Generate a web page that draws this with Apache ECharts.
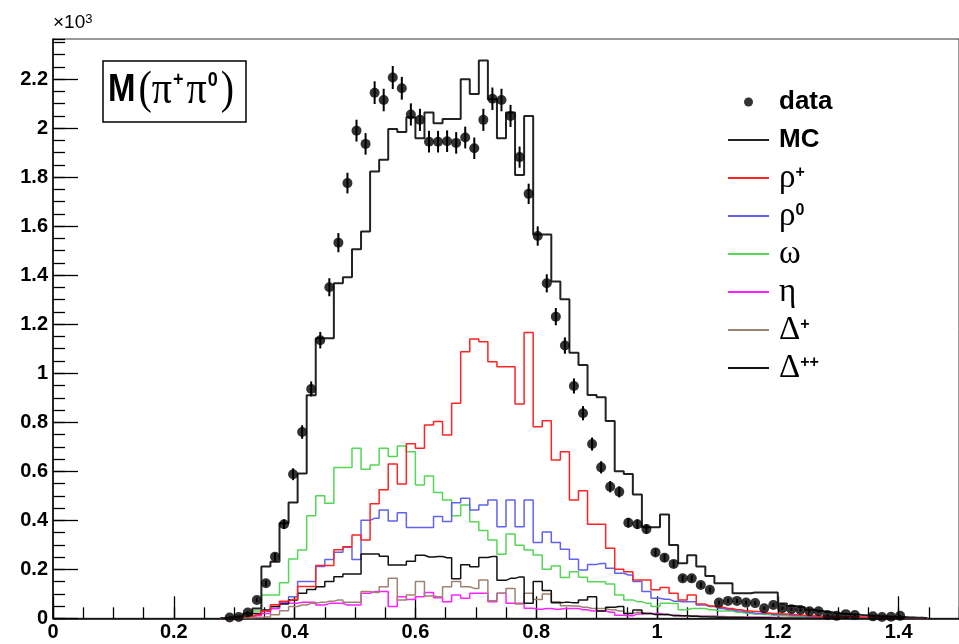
<!DOCTYPE html>
<html>
<head>
<meta charset="utf-8">
<script src="https://cdn.jsdelivr.net/npm/echarts@6/dist/echarts.min.js"></script>
<style>html,body{margin:0;padding:0;background:#fff}#c{width:959px;height:644px}</style>
</head>
<body>
<div id="c"></div>
<script>
// Histogram binning: 100 bins of width 0.015 over [0, 1.5]; arrays start at bin FIRST_BIN
const BIN_W = 0.015;
const FIRST_BIN = 19;
const X_TICKS = [0, 0.2, 0.4, 0.6, 0.8, 1, 1.2, 1.4];
const Y_TICKS = [0, 0.2, 0.4, 0.6, 0.8, 1, 1.2, 1.4, 1.6, 1.8, 2, 2.2];

// values in units of 10^3 entries, bins 19..95
const dataVals = [0.003,0.005,0.024,0.075,0.143,0.251,0.384,0.588,0.760,0.936,
  1.135,1.351,1.533,1.776,1.990,1.936,2.145,2.115,2.207,2.163,
  2.056,2.034,1.945,1.945,1.947,1.940,1.962,1.918,2.034,2.120,
  2.115,2.050,1.882,1.732,1.560,1.367,1.231,1.113,0.948,0.837,
  0.711,0.616,0.537,0.516,0.390,0.384,0.364,0.269,0.247,0.222,
  0.163,0.163,0.136,0.116,0.064,0.071,0.071,0.064,0.062,0.041,
  0.054,0.041,0.037,0.034,0.029,0.029,0.013,0.010,0.017,0.013,
  null,0.008,0.005,0.006,0.010,null,null];
const mcVals = [0.004,0.008,0.020,0.040,0.211,0.231,0.388,0.473,0.591,0.910,
  1.143,1.143,1.367,1.392,1.506,1.578,1.823,1.871,1.997,1.984,
  2.045,1.959,2.064,2.020,2.038,2.038,2.200,2.140,2.276,2.118,
  1.959,2.064,1.809,2.050,1.566,1.566,1.374,1.302,1.084,1.034,
  0.911,0.902,0.805,0.600,0.589,0.505,0.372,0.372,0.424,0.299,
  0.225,0.257,0.211,0.173,0.143,0.143,0.102,0.102,0.105,0.105,
  0.105,0.060,0.050,0.045,0.035,0.030,0.025,0.020,0.018,0.015,
  0.012,0.010,0.008,0.006,0.005,0.003,0.002];
const rhoPlusVals = [0.002,0.004,0.008,0.015,0.030,0.055,0.070,0.077,0.130,0.130,
  0.215,0.215,0.280,0.292,0.340,0.320,0.467,0.525,0.630,0.548,
  0.712,0.694,0.789,0.803,0.748,0.878,1.088,1.140,1.129,1.047,
  1.027,1.027,0.875,1.166,0.782,0.806,0.646,0.680,0.483,0.520,
  0.384,0.384,0.286,0.200,0.190,0.156,0.156,0.116,0.126,0.102,
  0.075,0.095,0.058,0.050,0.045,0.040,0.035,0.030,0.028,0.022,
  0.020,0.018,0.015,0.012,0.010,0.008,0.008,0.006,0.005,0.005,
  0.004,0.004,0.003,0.003,0.003,0.002,0.000];
const rho0Vals = [0.002,0.004,0.008,0.015,0.030,0.040,0.064,0.088,0.150,0.150,
  0.211,0.240,0.270,0.290,0.240,0.400,0.408,0.442,0.397,0.431,
  0.371,0.371,0.371,0.415,0.395,0.472,0.490,0.442,0.462,0.483,
  0.374,0.483,0.374,0.483,0.309,0.352,0.309,0.282,0.241,0.197,
  0.220,0.224,0.204,0.184,0.177,0.150,0.109,0.082,0.078,0.070,
  0.068,0.068,0.054,0.048,0.040,0.035,0.030,0.025,0.020,0.020,
  0.015,0.015,0.012,0.010,0.008,0.008,0.006,0.006,0.005,0.005,
  0.004,0.004,0.003,0.003,0.003,0.003,0.000];
const omegaVals = [0.003,0.006,0.015,0.030,0.095,0.095,0.145,0.242,0.279,0.418,
  0.500,0.469,0.615,0.615,0.694,0.608,0.626,0.694,0.660,0.703,
  0.680,0.544,0.581,0.513,0.483,0.418,0.462,0.394,0.358,0.320,
  0.261,0.344,0.298,0.279,0.258,0.200,0.213,0.167,0.190,0.168,
  0.149,0.149,0.140,0.095,0.075,0.068,0.061,0.048,0.061,0.060,
  0.035,0.040,0.040,0.035,0.030,0.030,0.025,0.020,0.018,0.015,
  0.012,0.010,0.008,0.007,0.006,0.005,0.004,0.004,0.003,0.003,
  0.002,0.002,0.002,0.001,0.001,0.000,0.000];
const etaVals = [0.002,0.004,0.006,0.010,0.020,0.040,0.061,0.061,0.065,0.065,
  0.054,0.061,0.061,0.054,0.054,0.102,0.109,0.109,0.048,0.088,
  0.077,0.088,0.105,0.084,0.068,0.095,0.082,0.102,0.102,0.068,
  0.102,0.061,0.061,0.041,0.037,0.040,0.037,0.040,0.040,0.035,
  0.030,0.030,0.025,0.012,0.010,0.018,0.020,0.020,0.015,0.012,
  0.010,0.010,0.008,0.008,0.007,0.006,0.005,0.005,0.004,0.004,
  0.003,0.003,0.003,0.002,0.002,0.002,0.002,0.006,0.006,0.002,
  0.001,0.001,0.001,0.001,0.000,0.000,0.000];
const deltaPlusVals = [0.000,0.001,0.002,0.003,0.005,0.014,0.031,0.048,0.054,0.061,
  0.065,0.070,0.075,0.065,0.065,0.109,0.105,0.129,0.163,0.075,
  0.095,0.150,0.091,0.088,0.129,0.150,0.129,0.122,0.156,0.072,
  0.102,0.122,0.058,0.102,0.077,0.099,0.068,0.051,0.050,0.045,
  0.040,0.040,0.035,0.030,0.020,0.025,0.020,0.015,0.015,0.012,
  0.010,0.010,0.008,0.008,0.006,0.005,0.005,0.004,0.004,0.003,
  0.003,0.002,0.002,0.002,0.001,0.001,0.001,0.000,0.000,0.000,
  0.000,0.000,0.000,0.000,0.000,0.000,0.000];
const deltaPPVals = [0.002,0.004,0.010,0.020,0.034,0.048,0.058,0.075,0.102,0.118,
  0.129,0.150,0.170,0.181,0.181,0.262,0.262,0.253,0.218,0.218,
  0.233,0.257,0.250,0.252,0.247,0.161,0.219,0.210,0.248,0.252,
  0.155,0.163,0.169,0.061,0.150,0.113,0.063,0.065,0.063,0.075,
  0.088,0.030,0.045,0.048,0.020,0.034,0.020,0.015,0.015,0.010,
  0.010,0.008,0.006,0.005,0.004,0.003,0.003,0.002,0.002,0.002,
  0.001,0.000,0.000,0.000,0.000,0.000,0.000,0.000,0.000,0.000,
  0.000,0.000,0.000,0.000,0.000,0.000,0.000];

const binCenter = k => +(BIN_W * (k + 0.5)).toFixed(4);
function histPoints(vals) {
  const pts = [[binCenter(FIRST_BIN - 1), 0]];
  vals.forEach((v, i) => pts.push([binCenter(FIRST_BIN + i), v]));
  pts.push([binCenter(FIRST_BIN + vals.length), 0]);
  return pts;
}
const dataPts = [], errPts = [];
dataVals.forEach((v, i) => {
  if (v === null) return;
  const x = binCenter(FIRST_BIN + i);
  const e = Math.sqrt(v * 1000) / 1000; // Poisson error of the counts
  dataPts.push([x, v]);
  errPts.push([x, Math.max(0, v - e), v + e]);
});

const SANS = 'Liberation Sans, Arial, Helvetica, sans-serif';
const SERIF = 'Liberation Serif, Times New Roman, serif';
const ROW_H = 38;
const legendRich = {
  b: {fontFamily: SANS, fontWeight: 'bold', fontSize: 26, lineHeight: ROW_H, height: ROW_H, color: '#000', padding: [0, 0, 0, 5]},
  g: {fontFamily: SERIF, fontSize: 33, lineHeight: ROW_H, height: ROW_H, color: '#000', padding: [0, 0, 0, 5]},
  s: {fontFamily: SANS, fontWeight: 'bold', fontSize: 16, lineHeight: 16, verticalAlign: 'top', color: '#000', padding: [6, 0, 0, 0]}
};
const legendLabels = {
  'data': '{b|data}', 'MC': '{b|MC}', 'rho+': '{g|ρ}{s|+}', 'rho0': '{g|ρ}{s|0}',
  'omega': '{g|ω}', 'eta': '{g|η}', 'Delta+': '{g|Δ}{s|+}', 'Delta++': '{g|Δ}{s|++}'
};
const hist = (name, vals, color, width, z) => ({
  name, type: 'line', step: 'middle', symbol: 'none', data: histPoints(vals),
  lineStyle: {color, width}, itemStyle: {color}, z, silent: true
});
const lineLegend = name => ({name, itemStyle: {opacity: 0}});

const chart = echarts.init(document.getElementById('c'), null, {renderer: 'canvas'});
chart.setOption({
  animation: false,
  backgroundColor: '#fff',
  grid: {left: 53, top: 39, width: 918, height: 579.3, show: true, borderColor: '#333', borderWidth: 1, backgroundColor: 'transparent'},
  xAxis: [{
    type: 'value', min: 0, max: 1.5, interval: 0.2,
    axisLine: {lineStyle: {color: '#000', width: 1.5}},
    axisTick: {inside: true, length: 22, lineStyle: {color: '#000', width: 1.3}},
    axisLabel: {color: '#000', fontFamily: SANS, fontWeight: 'bold', fontSize: 20, margin: 4, showMaxLabel: false,
      formatter: v => X_TICKS.some(t => Math.abs(t - v) < 1e-9) ? String(v) : ''},
    splitLine: {show: false}
  }, {
    type: 'value', min: 0, max: 1.5, interval: 0.05, position: 'bottom',
    axisLine: {show: false}, axisLabel: {show: false}, splitLine: {show: false},
    axisTick: {inside: true, length: 11, lineStyle: {color: '#000', width: 1.3}}
  }],
  yAxis: [{
    type: 'value', min: 0, max: 2.364, interval: 0.2,
    name: '{a|×10}{s|3}', nameLocation: 'end', nameGap: 6,
    nameTextStyle: {align: 'left', verticalAlign: 'bottom', rich: {
      a: {fontFamily: SANS, fontSize: 19, color: '#000', lineHeight: 20},
      s: {fontFamily: SANS, fontSize: 13, color: '#000', verticalAlign: 'top', lineHeight: 13}
    }},
    axisLine: {lineStyle: {color: '#000', width: 1.5}},
    axisTick: {inside: true, length: 25, lineStyle: {color: '#000', width: 1.3}},
    axisLabel: {color: '#000', fontFamily: SANS, fontWeight: 'bold', fontSize: 20, margin: 5, showMaxLabel: false,
      formatter: v => Y_TICKS.some(t => Math.abs(t - v) < 1e-9) ? String(v) : ''},
    splitLine: {show: false}
  }, {
    type: 'value', min: 0, max: 2.364, interval: 0.05, position: 'left',
    axisLine: {show: false}, axisLabel: {show: false}, splitLine: {show: false},
    axisTick: {inside: true, length: 12, lineStyle: {color: '#000', width: 1.3}}
  }],
  legend: {
    orient: 'vertical', left: 727, top: 83, padding: 0, itemGap: 0,
    itemWidth: 41, itemHeight: 9, selectedMode: false,
    data: ['data', lineLegend('MC'), lineLegend('rho+'), lineLegend('rho0'), lineLegend('omega'),
      lineLegend('eta'), lineLegend('Delta+'), lineLegend('Delta++')],
    formatter: n => legendLabels[n],
    textStyle: {rich: legendRich}
  },
  graphic: [
    {type: 'rect', shape: {x: 103, y: 61, width: 143, height: 61}, style: {fill: '#fff', stroke: '#000', lineWidth: 1.5}, z: 100},
    {type: 'text', x: 108, y: 91, scaleY: 1.15, z: 101, style: {
      text: '{m|M}{p|(π}{s|+}{p|π}{s|0}{p|)}', verticalAlign: 'middle',
      rich: {
        m: {fontFamily: SANS, fontWeight: 'bold', fontSize: 33, lineHeight: 36, fill: '#000'},
        p: {fontFamily: SERIF, fontSize: 40, lineHeight: 36, fill: '#000', padding: [0, 1, 0, 3]},
        s: {fontFamily: SANS, fontWeight: 'bold', fontSize: 18, lineHeight: 18, verticalAlign: 'top', fill: '#000'}
      }
    }}
  ],
  series: [
    hist('omega', omegaVals, '#55d655', 1.5, 3),
    hist('rho0', rho0Vals, '#6262f0', 1.5, 3),
    hist('rho+', rhoPlusVals, '#ff2424', 1.5, 4),
    hist('eta', etaVals, '#ff22ff', 1.5, 3),
    hist('Delta+', deltaPlusVals, '#a08270', 1.5, 3),
    hist('Delta++', deltaPPVals, '#111111', 1.5, 3),
    hist('MC', mcVals, '#222222', 2, 5),
    {name: 'errors', type: 'custom', data: errPts, z: 9, silent: true,
      renderItem: (params, api) => {
        const a = api.coord([api.value(0), api.value(1)]);
        const b = api.coord([api.value(0), api.value(2)]);
        return {type: 'line', shape: {x1: a[0], y1: a[1], x2: b[0], y2: b[1]}, style: {stroke: '#000', lineWidth: 2}};
      }},
    {name: 'data', type: 'scatter', data: dataPts, symbol: 'circle', symbolSize: 10,
      itemStyle: {color: '#000'}, z: 10, silent: true}
  ]
});
</script>
</body>
</html>
